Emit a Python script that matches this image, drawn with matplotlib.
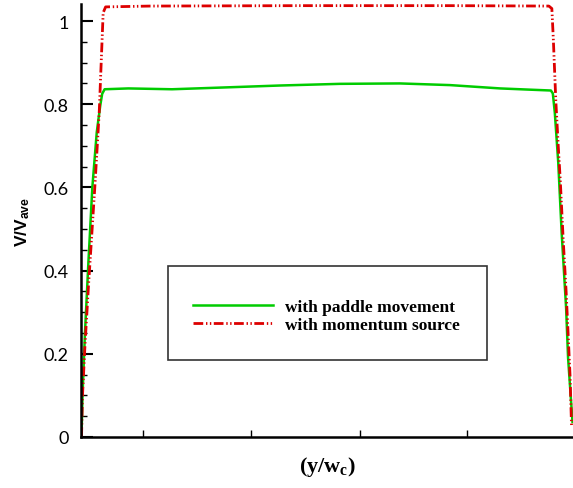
import matplotlib
matplotlib.use("Agg")
import matplotlib.pyplot as plt
import matplotlib.ticker as ticker
from matplotlib.patches import Rectangle

# ---------------------------------------------------------------------------
# Data
# ---------------------------------------------------------------------------
paddle_x = [0.001, 0.003, 0.008, 0.015, 0.023, 0.032, 0.039, 0.043, 0.048,
            0.096, 0.185, 0.283, 0.404, 0.526, 0.648, 0.750, 0.852, 0.913,
            0.955, 0.959, 0.963, 0.970, 0.977, 0.986, 0.990, 0.999]
paddle_v = [0.0, 0.10, 0.25, 0.42, 0.60, 0.733, 0.796, 0.825, 0.836,
            0.838, 0.836, 0.840, 0.845, 0.849, 0.850, 0.846, 0.838, 0.835,
            0.833, 0.826, 0.78, 0.66, 0.49, 0.31, 0.19, 0.036]

source_x = [0.001, 0.003, 0.008, 0.015, 0.028, 0.037, 0.042, 0.045, 0.050,
            0.140, 0.445, 0.750, 0.951, 0.957, 0.960, 0.965, 0.970, 0.974,
            0.980, 0.986, 0.990, 0.994, 0.997]
source_v = [0.0, 0.10, 0.22, 0.36, 0.60, 0.78, 0.93, 1.02, 1.034,
            1.036, 1.037, 1.037, 1.036, 1.030, 0.957, 0.81, 0.70, 0.62,
            0.476, 0.35, 0.25, 0.147, 0.027]

x_ticks = [0.126, 0.3465, 0.567, 0.784]
y_ticks = [0, 0.2, 0.4, 0.6, 0.8, 1.0]
y_ticklabels = ["0", "0.2", "0.4", "0.6", "0.8", "1"]

labels = ["with paddle movement", "with momentum source"]

# ---------------------------------------------------------------------------
# Style
# ---------------------------------------------------------------------------
plt.rcParams["mathtext.fontset"] = "custom"
plt.rcParams["mathtext.bf"] = "Liberation Serif:bold"
plt.rcParams["mathtext.sf"] = "Liberation Sans:bold"
plt.rcParams["lines.scale_dashes"] = False

fig = plt.figure(figsize=(5.73, 4.89), dpi=100)
ax = fig.add_axes([0.1414, 0.1043, 0.8586, 0.8855])

ax.plot(paddle_x, paddle_v, color="#00cc00", linewidth=1.8, label=labels[0])
red, = ax.plot(source_x, source_v, color="#dd0000", linewidth=2.0,
               label=labels[1])
red.set_dashes((7, 2, 1, 1.8, 1, 1.8))

ax.set_xlim(0, 1.0)
ax.set_ylim(0, 1.041)

for side in ("top", "right"):
    ax.spines[side].set_visible(False)
for side in ("left", "bottom"):
    ax.spines[side].set_linewidth(1.8)

ax.set_xticks(x_ticks)
ax.set_xticklabels([])
ax.tick_params(axis="x", direction="in", length=5, width=1.0)

ax.set_yticks(y_ticks)
ax.set_yticklabels(y_ticklabels, fontfamily="Lato", fontsize=13)
ax.yaxis.set_minor_locator(ticker.MultipleLocator(0.05))
ax.tick_params(axis="y", which="major", direction="in", length=8.5,
               width=1.5, pad=9)
ax.tick_params(axis="y", which="minor", direction="in", length=4.3, width=1.0)

ax.set_ylabel(r"$\mathsf{V/V_{ave}}$", fontsize=12.5, labelpad=8)
ax.set_xlabel(r"$\mathbf{(y/w_c)}$", fontsize=16, labelpad=9)

# legend frame (larger than the legend content)
ax.add_patch(Rectangle((0.177, 0.178), 0.648, 0.217, transform=ax.transAxes,
                       fill=False, edgecolor="#333333", linewidth=1.2,
                       zorder=3))
ax.legend(loc="center left", bbox_to_anchor=(0.228, 0.279), frameon=False,
          prop={"family": "Liberation Serif", "weight": "bold", "size": 12.5},
          handlelength=4.6, handletextpad=0.7, labelspacing=0.1,
          borderpad=0, borderaxespad=0)

fig.savefig("out.png", dpi=100)
